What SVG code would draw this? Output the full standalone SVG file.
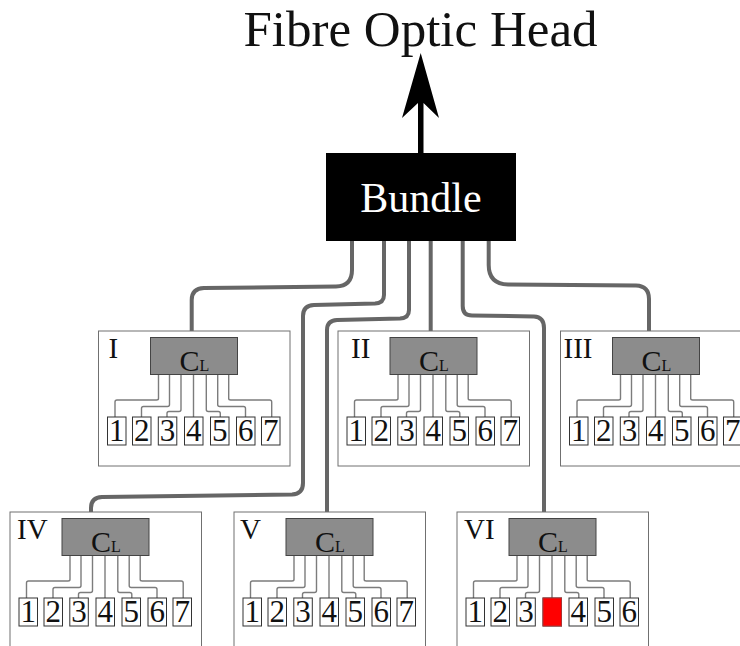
<svg xmlns="http://www.w3.org/2000/svg" xmlns:xlink="http://www.w3.org/1999/xlink" width="740" height="646" viewBox="0 0 740 646">
<style>
text{font-family:"Liberation Serif","Times New Roman",serif;fill:#111}
.panel{fill:#fff;stroke:#707070;stroke-width:1}
.cl{fill:#8c8c8c;stroke:#444;stroke-width:1}
.cell{fill:#fff;stroke:#333;stroke-width:1}
.wire{fill:none;stroke:#7c7c7c;stroke-width:1.4;stroke-linejoin:round}
.bus{fill:none;stroke:#666;stroke-width:4}
.n{font-size:31px;text-anchor:middle}
.r{font-size:29px}
.c{font-size:30px}
.s{font-size:16px}
</style>
<defs>
<g id="fan">
<path class="wire" d="M60 43.500V67.500Q60 69 58 69H18.500Q16.500 69 16.500 71V86"/>
<path class="wire" d="M71 43.500V73.500Q71 75.500 69 75.500H45Q43 75.500 43 77.500V86"/>
<path class="wire" d="M82.500 43.500V78.500Q82.500 80.500 80.500 80.500H70.500Q68.500 80.500 68.500 82.500V86"/>
<path class="wire" d="M95 43.500V86"/>
<path class="wire" d="M107.800 43.500V78.500Q107.800 80.500 109.800 80.500H119.800Q121.800 80.500 121.800 82.500V86"/>
<path class="wire" d="M119.200 43.500V73.500Q119.200 75.500 121.200 75.500H145Q147 75.500 147 77.500V86"/>
<path class="wire" d="M130.200 43.500V67.500Q130.200 69 132.200 69H171.200Q173.200 69 173.200 71V86"/>
</g>
<g id="cells">
<rect class="cell" x="9" y="86" width="18.500" height="28"/>
<rect class="cell" x="34" y="86" width="18.500" height="28"/>
<rect class="cell" x="59.800" y="86" width="18.500" height="28"/>
<rect class="cell" x="86" y="86" width="18.500" height="28"/>
<rect class="cell" x="112" y="86" width="18.500" height="28"/>
<rect class="cell" x="138" y="86" width="18.500" height="28"/>
<rect class="cell" x="163" y="86" width="18.500" height="28"/>
</g>
<g id="frame">
<rect class="panel" x="0" y="0" width="191.500" height="135"/>
<use href="#fan"/>
<rect class="cl" x="52" y="6.500" width="87" height="37"/>
<use href="#cells"/>
</g>
</defs>

<g id="connectors">
<path class="bus" d="M352 241V270Q352 286 336 286.500L204 288Q191.700 288.500 191.700 300V331"/>
<path class="bus" d="M384 241V295Q384 303 375 303.500L314 305Q303 305.500 303 316V483Q303 494 292 494.500L102 497Q91 497.500 91 508V512"/>
<path class="bus" d="M409 241V310Q409 318 400 318.500L337 320Q327 320.500 327 330V512"/>
<path class="bus" d="M430.700 241V331"/>
<path class="bus" d="M462.700 241V306Q462.700 315.500 472 315.500L534 316.500Q544 317 544 328V512"/>
<path class="bus" d="M488.700 241V265Q488.700 284 508 284.500L636 285.500Q649 286 649 299V331"/>
<path d="M418 153V103L402 118L420.700 53L439 118L423.500 103V153Z" fill="#000"/>
</g>

<g id="title"><text x="420.500" y="45.500" font-size="51" text-anchor="middle" style="fill:#111">Fibre Optic Head</text></g>

<g id="bundle">
<rect x="326" y="153" width="190" height="88" fill="#000"/>
<text x="421" y="212" font-size="42" text-anchor="middle" style="fill:#fff">Bundle</text>
</g>

<g id="panel-I" transform="translate(98.500 331)">
<use href="#frame"/>
<text class="r" x="10" y="27">I</text>
<text x="81" y="39.500"><tspan class="c">C</tspan><tspan class="s">L</tspan></text>
<text class="n" y="110"><tspan x="18.200">1</tspan><tspan x="43.200">2</tspan><tspan x="69">3</tspan><tspan x="95.200">4</tspan><tspan x="121.200">5</tspan><tspan x="147.200">6</tspan><tspan x="172.200">7</tspan></text>
</g>

<g id="panel-II" transform="translate(338 331)">
<use href="#frame"/>
<text class="r" x="13" y="27">II</text>
<text x="81" y="39.500"><tspan class="c">C</tspan><tspan class="s">L</tspan></text>
<text class="n" y="110"><tspan x="18.200">1</tspan><tspan x="43.200">2</tspan><tspan x="69">3</tspan><tspan x="95.200">4</tspan><tspan x="121.200">5</tspan><tspan x="147.200">6</tspan><tspan x="172.200">7</tspan></text>
</g>

<g id="panel-III" transform="translate(560.500 331)">
<use href="#frame"/>
<text class="r" x="3" y="27">III</text>
<text x="81" y="39.500"><tspan class="c">C</tspan><tspan class="s">L</tspan></text>
<text class="n" y="110"><tspan x="18.200">1</tspan><tspan x="43.200">2</tspan><tspan x="69">3</tspan><tspan x="95.200">4</tspan><tspan x="121.200">5</tspan><tspan x="147.200">6</tspan><tspan x="172.200">7</tspan></text>
</g>

<g id="panel-IV" transform="translate(10 512)">
<use href="#frame"/>
<text class="r" x="7" y="27">IV</text>
<text x="81" y="39.500"><tspan class="c">C</tspan><tspan class="s">L</tspan></text>
<text class="n" y="110"><tspan x="18.200">1</tspan><tspan x="43.200">2</tspan><tspan x="69">3</tspan><tspan x="95.200">4</tspan><tspan x="121.200">5</tspan><tspan x="147.200">6</tspan><tspan x="172.200">7</tspan></text>
</g>

<g id="panel-V" transform="translate(234 512)">
<use href="#frame"/>
<text class="r" x="6" y="27">V</text>
<text x="81" y="39.500"><tspan class="c">C</tspan><tspan class="s">L</tspan></text>
<text class="n" y="110"><tspan x="18.200">1</tspan><tspan x="43.200">2</tspan><tspan x="69">3</tspan><tspan x="95.200">4</tspan><tspan x="121.200">5</tspan><tspan x="147.200">6</tspan><tspan x="172.200">7</tspan></text>
</g>

<g id="panel-VI" transform="translate(457 512)">
<use href="#frame"/>
<rect x="86" y="86" width="18.500" height="28" fill="#f00" stroke="#a33" stroke-width="1"/>
<text class="r" x="7" y="27">VI</text>
<text x="81" y="39.500"><tspan class="c">C</tspan><tspan class="s">L</tspan></text>
<text class="n" y="110"><tspan x="18.200">1</tspan><tspan x="43.200">2</tspan><tspan x="69">3</tspan><tspan x="121.200">4</tspan><tspan x="147.200">5</tspan><tspan x="172.200">6</tspan></text>
</g>
</svg>
